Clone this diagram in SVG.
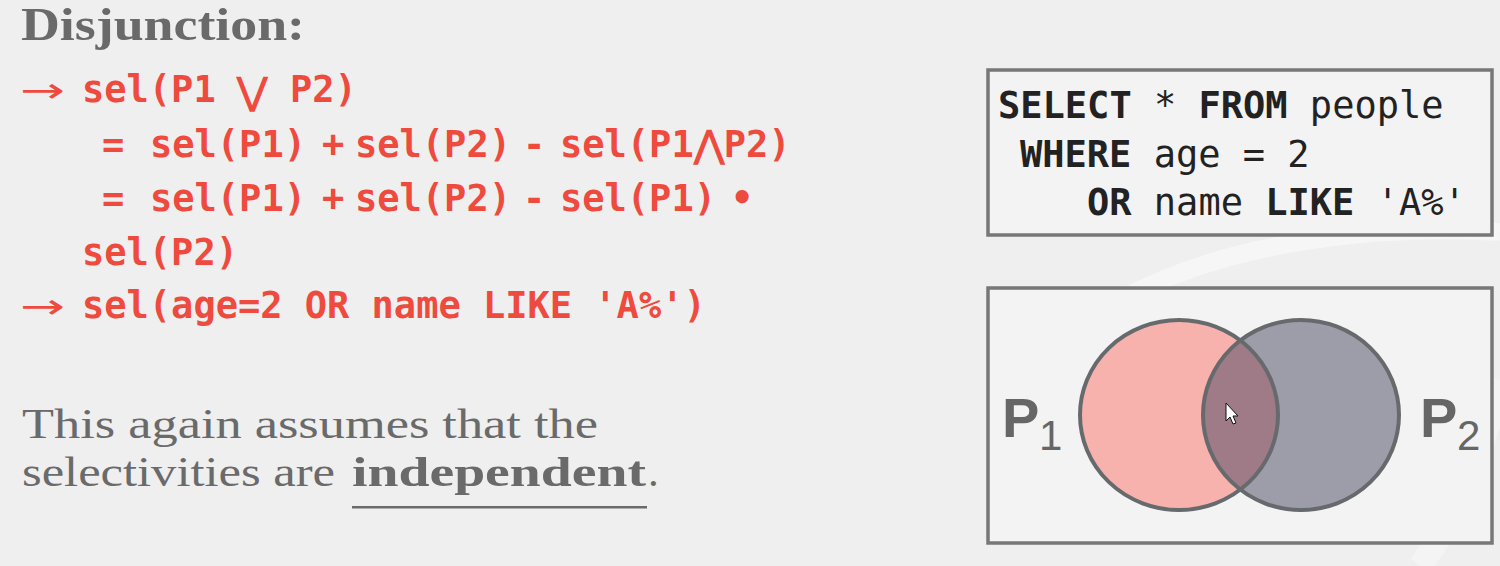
<svg xmlns="http://www.w3.org/2000/svg" width="1500" height="566" viewBox="0 0 1500 566">
<defs>
<style>
.title{font-family:"Liberation Serif",serif;font-weight:bold;font-size:46px;fill:#6a6a6a}
.body{font-family:"Liberation Serif",serif;font-size:43px;fill:#6a6a6a}
.red{font-family:"DejaVu Sans Mono","Liberation Mono",monospace;font-weight:bold;font-size:37px;fill:#ee4a3d}
.arrow{font-family:"DejaVu Sans",sans-serif;font-size:34px;fill:#ee4a3d}
.sql{font-family:"DejaVu Sans Mono","Liberation Mono",monospace;font-size:37px;fill:#222}
.kw{font-weight:bold}
.box{fill:#f3f3f3;stroke:#777;stroke-width:3.5}
.lbl{font-family:"Liberation Sans",sans-serif;fill:#666}
</style>
<clipPath id="clipL"><ellipse cx="1179" cy="415" rx="99" ry="95"/></clipPath>
</defs>
<rect width="1500" height="566" fill="#efefef"/>
<path d="M1120 300 C1230 240 1380 225 1500 232" fill="none" stroke="#f7f7f7" stroke-width="18" opacity="0.8"/>
<path d="M1420 566 C1470 500 1490 420 1500 380" fill="none" stroke="#f6f6f6" stroke-width="24" opacity="0.6"/>

<g id="title"><text class="title" x="21" y="40" textLength="284" lengthAdjust="spacingAndGlyphs">Disjunction:</text></g>

<g id="formulas">
<text class="arrow" x="20" y="102" textLength="45" lengthAdjust="spacingAndGlyphs">→</text>
<text class="red" x="82" y="102">sel(P1</text>
<text class="red" x="237" y="104" font-size="44" font-weight="normal" font-family="DejaVu Sans, sans-serif">⋁</text>
<text class="red" x="290" y="102">P2)</text>

<text class="red" x="102" y="157">=</text>
<text class="red" x="150" y="157">sel(P1)</text>
<text class="red" x="322" y="157">+</text>
<text class="red" x="355" y="157">sel(P2)</text>
<text class="red" x="523" y="157">-</text>
<text class="red" x="560" y="157">sel(P1⋀P2)</text>

<text class="red" x="102" y="211">=</text>
<text class="red" x="150" y="211">sel(P1)</text>
<text class="red" x="322" y="211">+</text>
<text class="red" x="355" y="211">sel(P2)</text>
<text class="red" x="523" y="211">-</text>
<text class="red" x="560" y="211">sel(P1)</text>
<text class="red" x="731" y="211">•</text>

<text class="red" x="82" y="265">sel(P2)</text>

<text class="arrow" x="20" y="318" textLength="45" lengthAdjust="spacingAndGlyphs">→</text>
<text class="red" x="82" y="318">sel(age=2 OR name LIKE 'A%')</text>
</g>

<g id="note">
<text class="body" x="22" y="438" textLength="576" lengthAdjust="spacingAndGlyphs">This again assumes that the</text>
<text class="body" x="22" y="486" textLength="313" lengthAdjust="spacingAndGlyphs">selectivities are</text>
<text class="body" x="352" y="486" font-weight="bold" textLength="294" lengthAdjust="spacingAndGlyphs">independent</text>
<text class="body" x="648" y="486">.</text>
<rect x="352" y="506" width="295" height="2.5" fill="#6a6a6a"/>
</g>

<g id="sql-box">
<rect class="box" x="988" y="70" width="504" height="165"/>
<text class="sql" x="998" y="118" xml:space="preserve"><tspan class="kw">SELECT</tspan> * <tspan class="kw">FROM</tspan> people</text>
<text class="sql" x="1020" y="167" xml:space="preserve"><tspan class="kw">WHERE</tspan> age = 2</text>
<text class="sql" x="1087" y="215" xml:space="preserve"><tspan class="kw">OR</tspan> name <tspan class="kw">LIKE</tspan> 'A%'</text>
</g>

<g id="venn-box">
<rect class="box" x="988" y="288" width="504" height="255"/>
<ellipse cx="1179" cy="415" rx="99" ry="95" fill="#f8b2ad"/>
<ellipse cx="1301" cy="415" rx="98" ry="95" fill="#9d9ca9"/>
<ellipse cx="1301" cy="415" rx="98" ry="95" fill="#9e7b86" clip-path="url(#clipL)"/>
<ellipse cx="1179" cy="415" rx="99" ry="95" fill="none" stroke="#676a6c" stroke-width="4"/>
<ellipse cx="1301" cy="415" rx="98" ry="95" fill="none" stroke="#676a6c" stroke-width="4"/>
<text class="lbl" x="1002" y="437" font-size="56" font-weight="bold">P</text>
<text class="lbl" x="1039" y="450" font-size="42">1</text>
<text class="lbl" x="1420" y="437" font-size="56" font-weight="bold">P</text>
<text class="lbl" x="1457" y="450" font-size="42">2</text>
<polygon points="1226,403 1226,421 1230,417 1233,424 1236,423 1233,416 1238,416" fill="#fff" stroke="#111" stroke-width="1"/>
</g>
</svg>
